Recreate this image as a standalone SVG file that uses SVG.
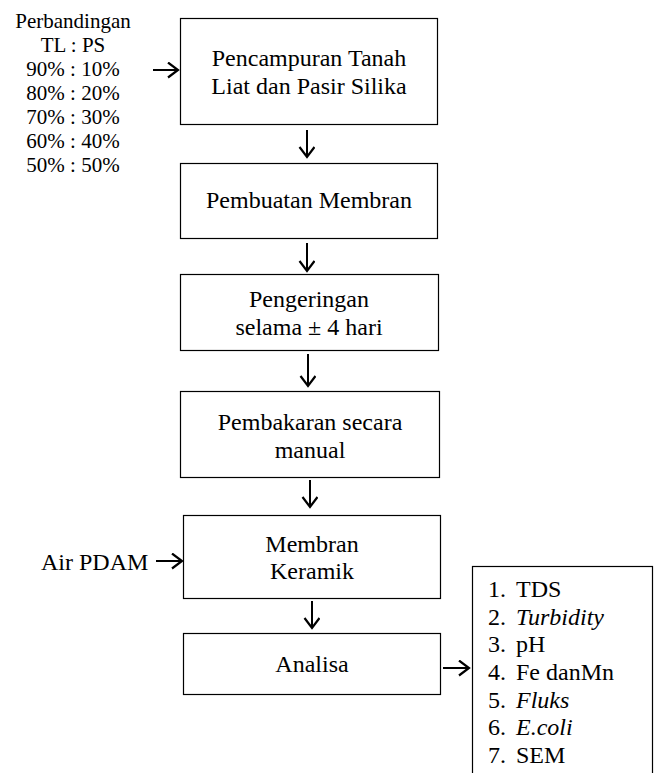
<svg xmlns="http://www.w3.org/2000/svg" width="655" height="773" viewBox="0 0 655 773" font-family="'Liberation Serif', 'DejaVu Serif', serif">
<defs>
<style>
text{font-family:'Liberation Serif','DejaVu Serif',serif;font-size:24px;fill:#000}
.s{font-size:21px}
.c{text-anchor:middle}
.box{fill:#fff;stroke:#000;stroke-width:1.2}
.arr{fill:none;stroke:#000;stroke-width:2}
.it{font-style:italic}
</style>
<marker id="ah" markerWidth="20" markerHeight="20" refX="11" refY="8" orient="auto" markerUnits="userSpaceOnUse">
<path d="M1,0.5 L11,8 L1,15.5" fill="none" stroke="#000" stroke-width="2.2"/>
</marker>
</defs>
<rect width="655" height="773" fill="#fff"/>
<g id="ratio">
<text class="c s" x="73" y="28">Perbandingan</text>
<text class="c s" x="73" y="52">TL : PS</text>
<text class="c s" x="73" y="76">90% : 10%</text>
<text class="c s" x="73" y="100">80% : 20%</text>
<text class="c s" x="73" y="124">70% : 30%</text>
<text class="c s" x="73" y="148">60% : 40%</text>
<text class="c s" x="73" y="172">50% : 50%</text>
</g>
<g id="n1">
<rect class="box" x="180.5" y="18.5" width="257" height="106"/>
<text class="c" x="309" y="66">Pencampuran Tanah</text>
<text class="c" x="309" y="94">Liat dan Pasir Silika</text>
</g>
<g id="n2">
<rect class="box" x="180.5" y="163.5" width="257" height="75"/>
<text class="c" x="309" y="208">Pembuatan Membran</text>
</g>
<g id="n3">
<rect class="box" x="180.5" y="274.5" width="258" height="76"/>
<text class="c" x="309" y="307">Pengeringan</text>
<text class="c" x="309" y="335">selama ± 4 hari</text>
</g>
<g id="n4">
<rect class="box" x="180.5" y="391.5" width="259" height="86"/>
<text class="c" x="310" y="430">Pembakaran secara</text>
<text class="c" x="310" y="458">manual</text>
</g>
<g id="airpdam">
<text x="41" y="570">Air PDAM</text>
</g>
<g id="n5">
<rect class="box" x="183.5" y="515.5" width="257" height="83"/>
<text class="c" x="312" y="552">Membran</text>
<text class="c" x="312" y="579">Keramik</text>
</g>
<g id="n6">
<rect class="box" x="183.5" y="633.5" width="257" height="61"/>
<text class="c" x="312" y="672">Analisa</text>
</g>
<g id="list">
<rect class="box" x="472.5" y="566.5" width="180" height="215"/>
<text x="488" y="597">1.</text><text x="516" y="597">TDS</text>
<text x="488" y="625">2.</text><text class="it" x="516" y="625">Turbidity</text>
<text x="488" y="652">3.</text><text x="516" y="652">pH</text>
<text x="488" y="680">4.</text><text x="516" y="680">Fe danMn</text>
<text x="488" y="708">5.</text><text class="it" x="516" y="708">Fluks</text>
<text x="488" y="735">6.</text><text class="it" x="516" y="735">E.coli</text>
<text x="488" y="763">7.</text><text x="516" y="763">SEM</text>
</g>
<g id="connectors">
<line class="arr" x1="153" y1="70" x2="178" y2="70" marker-end="url(#ah)"/>
<line class="arr" x1="307" y1="130" x2="307" y2="157" marker-end="url(#ah)"/>
<line class="arr" x1="307" y1="243" x2="307" y2="271" marker-end="url(#ah)"/>
<line class="arr" x1="308" y1="354" x2="308" y2="386" marker-end="url(#ah)"/>
<line class="arr" x1="310" y1="480" x2="310" y2="507" marker-end="url(#ah)"/>
<line class="arr" x1="156" y1="561" x2="182" y2="561" marker-end="url(#ah)"/>
<line class="arr" x1="312" y1="601" x2="312" y2="628" marker-end="url(#ah)"/>
<line class="arr" x1="443" y1="668" x2="469" y2="668" marker-end="url(#ah)"/>
</g>
</svg>
